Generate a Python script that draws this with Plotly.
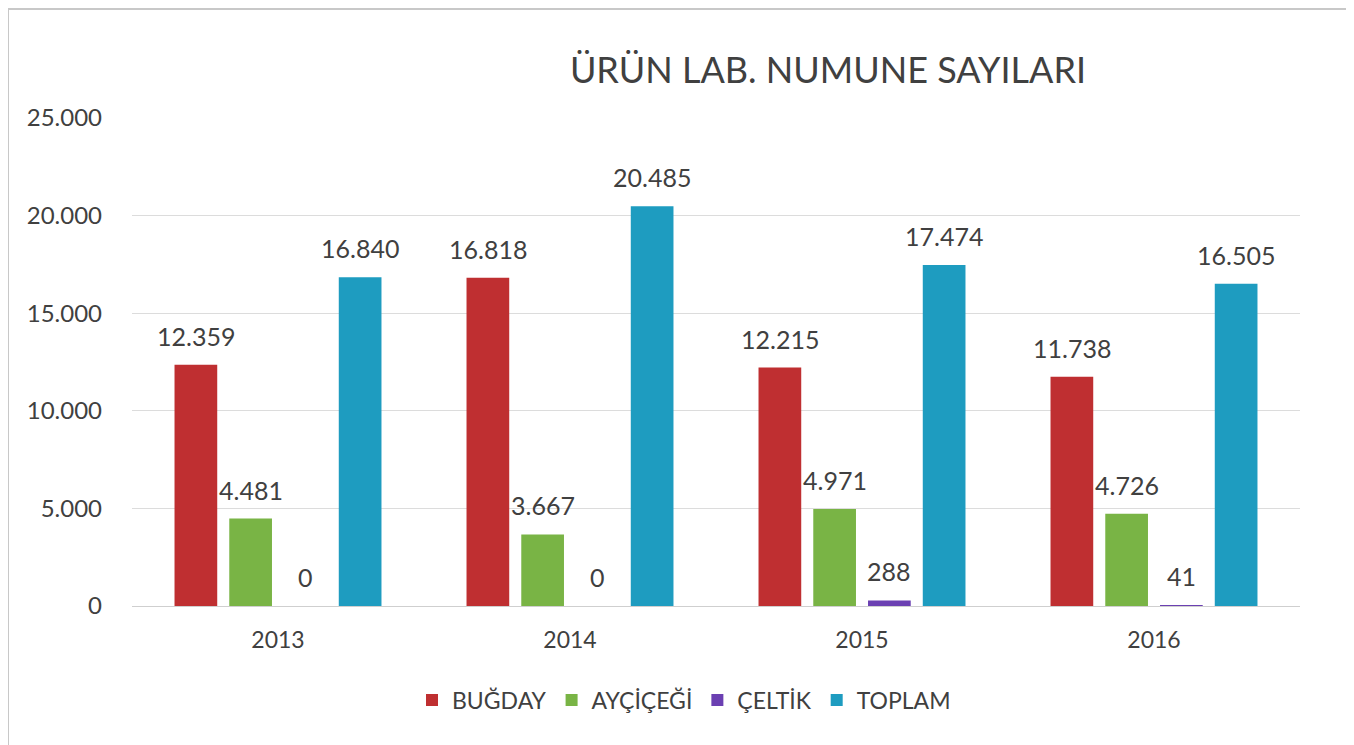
import plotly.graph_objects as go

years = ["2013", "2014", "2015", "2016"]
bugday = [12359, 16818, 12215, 11738]
aycicegi = [4481, 3667, 4971, 4726]
celtik = [0, 0, 288, 41]
toplam = [16840, 20485, 17474, 16505]
series_names = ["BUĞDAY", "AYÇİÇEĞİ", "ÇELTİK", "TOPLAM"]
colors = ["#bf2f31", "#79b445", "#6b40b2", "#1e9cc0"]
y_ticks = [0, 5000, 10000, 15000, 20000, 25000]
y_tick_text = ["0", "5.000", "10.000", "15.000", "20.000", "25.000"]

FONT = "Lato, 'Open Sans', sans-serif"
TXT = "#404040"

def fmt(v):
    return f"{v:,}".replace(",", ".")

all_series = [bugday, aycicegi, celtik, toplam]
bargap = 0.25
slot = (1 - bargap) / len(all_series)

W, H = 1346, 737
L, R, T, B = 124, 54, 110, 139
PW, PH = W - L - R, H - T - B

fig = go.Figure()
annotations = []
for i, (name, vals, col) in enumerate(zip(series_names, all_series, colors)):
    fig.add_trace(go.Bar(
        x=years, y=vals, name=name, marker_color=col,
        marker_line_width=0,
    ))
    off = (i - (len(all_series) - 1) / 2) * slot
    for j, v in enumerate(vals):
        annotations.append(dict(
            x=j + off, y=v, xref="x", yref="y", text=fmt(v),
            showarrow=False, yanchor="bottom", yshift=12,
            font=dict(family=FONT, size=25, color=TXT),
        ))

fig.update_layout(
    width=W, height=H,
    paper_bgcolor="white", plot_bgcolor="white",
    barmode="group", bargap=bargap, bargroupgap=0.22,
    margin=dict(l=L, r=R, t=T, b=B),
    title=dict(text="ÜRÜN LAB. NUMUNE SAYILARI", x=(820 - L) / PW, xref="paper", xanchor="center",
               y=1 - 62 / H, yanchor="middle",
               font=dict(family=FONT, size=36, color=TXT)),
    font=dict(family=FONT, color=TXT),
    legend=dict(orientation="h", x=(676 - L) / PW, xanchor="center", y=-(692 - T - PH) / PH,
                yanchor="middle",
                font=dict(family=FONT, size=23, color=TXT), itemwidth=30,
                traceorder="normal"),
    annotations=annotations,
    shapes=[dict(type="rect", xref="paper", yref="paper",
                 x0=(0 - L) / PW, x1=(W + 5 - L) / PW,
                 y0=-(H + 5 - T - PH) / PH, y1=1 + (T - 1) / PH,
                 line=dict(color="#c8c8c8", width=2), layer="below")],
)
fig.update_yaxes(range=[0, 25000], tickvals=y_ticks, ticktext=y_tick_text,
                 showgrid=True, gridcolor="#dcdcdc", gridwidth=1, zeroline=False,
                 showline=False, ticks="", ticklabelstandoff=29,
                 tickfont=dict(family=FONT, size=24, color=TXT))
fig.update_xaxes(type="category", showline=True, linecolor="#cfcfcf", linewidth=1,
                 ticks="", ticklabelstandoff=13,
                 tickfont=dict(family=FONT, size=23, color=TXT))

fig.write_html("out.html")
